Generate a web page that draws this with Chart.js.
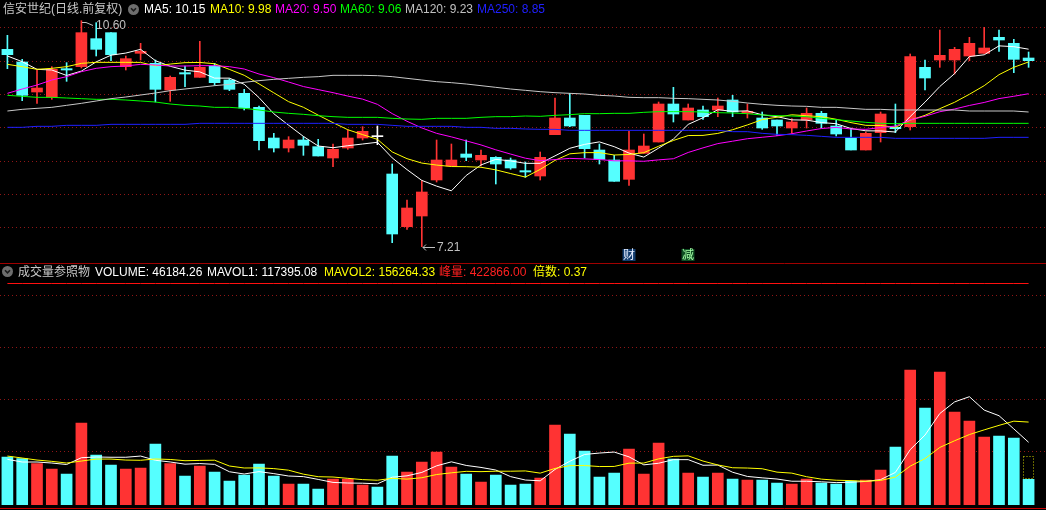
<!DOCTYPE html>
<html>
<head>
<meta charset="utf-8">
<script src="https://cdn.jsdelivr.net/npm/chart.js@4.4.1/dist/chart.umd.min.js"></script>
<style>
  html, body { margin: 0; padding: 0; background: #000; }
  #wrap { position: relative; width: 1046px; height: 510px; overflow: hidden; background: #000; }
  canvas { position: absolute; left: 0; }
  #price { top: 0; }
  #vol { top: 262px; }
  .t { position: absolute; font: 12px Arial, "Liberation Sans", "Noto Sans CJK SC", sans-serif; line-height: 12px; white-space: nowrap; }
  .ico { position: absolute; width: 11px; height: 11px; }
</style>
</head>
<body>
<div id="wrap">
  <canvas id="price" width="1046" height="262"></canvas>
  <canvas id="vol" width="1046" height="248"></canvas>

  <span class="t" style="left:3px;top:3px;color:#c8c8c8">信安世纪(日线.前复权)</span>
  <svg class="ico" style="left:127.5px;top:3.5px" viewBox="0 0 11 11"><circle cx="5.5" cy="5.5" r="5.5" fill="#6e6e6e"/><path d="M3 4.3 L5.5 6.8 L8 4.3" stroke="#1c1c1c" stroke-width="1.6" fill="none"/></svg>
  <span class="t" style="left:144px;top:3px;color:#ffffff">MA5: 10.15</span>
  <span class="t" style="left:210px;top:3px;color:#ffff00">MA10: 9.98</span>
  <span class="t" style="left:275px;top:3px;color:#ff00ff">MA20: 9.50</span>
  <span class="t" style="left:340px;top:3px;color:#00ff00">MA60: 9.06</span>
  <span class="t" style="left:405px;top:3px;color:#c0c0c0">MA120: 9.23</span>
  <span class="t" style="left:477px;top:3px;color:#2020ff">MA250: 8.85</span>

  <svg class="ico" style="left:2px;top:266px" viewBox="0 0 11 11"><circle cx="5.5" cy="5.5" r="5.5" fill="#6e6e6e"/><path d="M3 4.3 L5.5 6.8 L8 4.3" stroke="#1c1c1c" stroke-width="1.6" fill="none"/></svg>
  <span class="t" style="left:18px;top:266px;color:#c8c8c8">成交量参照物</span>
  <span class="t" style="left:95px;top:266px;color:#ffffff">VOLUME: 46184.26</span>
  <span class="t" style="left:207px;top:266px;color:#ffffff">MAVOL1: 117395.08</span>
  <span class="t" style="left:324px;top:266px;color:#ffff00">MAVOL2: 156264.33</span>
  <span class="t" style="left:439px;top:266px;color:#ff2020">峰量: 422866.00</span>
  <span class="t" style="left:533px;top:266px;color:#ffff00">倍数: 0.37</span>
</div>
<script>
'use strict'

// 70 trading days, no dates shown on the chart
const days = Array.from({ length: 70 }, (_, i) => i + 1);

const opens = [10.17, 9.98, 9.53, 9.45, 9.88, 9.91, 10.33, 10.42, 9.91, 10.11,
  9.96, 9.56, 9.82, 9.75, 9.92, 9.71, 9.51, 9.30, 8.84, 8.69,
  8.81, 8.71, 8.54, 8.69, 8.84, 8.86, 8.30, 7.51, 7.67, 8.21,
  8.42, 8.60, 8.51, 8.55, 8.51, 8.35, 8.27, 8.89, 9.14, 9.18,
  8.66, 8.51, 8.22, 8.61, 8.78, 9.35, 9.11, 9.26, 9.26, 9.41,
  9.21, 9.14, 9.11, 8.99, 9.11, 9.21, 9.02, 8.84, 8.66, 8.92,
  9.00, 9.01, 9.90, 10.01, 10.01, 10.07, 10.11, 10.35, 10.26, 10.04];
const highs = [10.38, 10.02, 9.86, 9.91, 9.97, 10.60, 10.57, 10.42, 10.07, 10.26,
  10.01, 9.77, 9.92, 10.29, 9.96, 9.73, 9.57, 9.32, 8.91, 8.86,
  8.86, 8.82, 8.75, 8.96, 9.01, 9.02, 8.45, 7.91, 8.20, 8.81,
  8.75, 8.81, 8.66, 8.56, 8.54, 8.48, 8.63, 9.44, 9.51, 9.18,
  8.75, 8.58, 8.94, 8.90, 9.38, 9.60, 9.35, 9.32, 9.44, 9.48,
  9.35, 9.23, 9.11, 9.13, 9.29, 9.24, 9.11, 8.99, 8.93, 9.23,
  9.35, 10.10, 10.01, 10.46, 10.20, 10.35, 10.50, 10.46, 10.32, 10.13];
const lows = [9.88, 9.40, 9.36, 9.42, 9.69, 9.89, 10.07, 10.00, 9.86, 10.01,
  9.38, 9.39, 9.61, 9.75, 9.63, 9.55, 9.26, 8.66, 8.63, 8.63,
  8.58, 8.57, 8.41, 8.67, 8.81, 8.74, 7.27, 7.47, 7.21, 8.18,
  8.42, 8.50, 8.42, 8.15, 8.37, 8.25, 8.21, 8.89, 9.01, 8.54,
  8.45, 8.19, 8.13, 8.61, 8.78, 9.08, 9.11, 9.12, 9.16, 9.16,
  9.14, 8.97, 8.88, 8.91, 8.99, 8.99, 8.87, 8.66, 8.66, 8.78,
  8.92, 8.96, 9.56, 9.90, 9.80, 10.00, 10.11, 10.14, 9.82, 9.90];
const closes = [10.09, 9.48, 9.59, 9.87, 9.86, 10.42, 10.17, 10.09, 10.03, 10.14,
  9.57, 9.75, 9.80, 9.90, 9.67, 9.57, 9.29, 8.80, 8.69, 8.81,
  8.73, 8.57, 8.67, 8.84, 8.94, 8.86, 7.40, 7.79, 8.03, 8.51,
  8.51, 8.55, 8.58, 8.45, 8.39, 8.33, 8.55, 9.14, 9.02, 8.68,
  8.52, 8.19, 8.66, 8.72, 9.35, 9.20, 9.29, 9.16, 9.32, 9.23,
  9.24, 8.99, 9.02, 9.08, 9.21, 9.06, 8.90, 8.66, 8.91, 9.20,
  8.98, 10.06, 9.74, 10.08, 10.17, 10.26, 10.19, 10.31, 10.02, 10.00];

const ma5 = [10.07, 9.985, 9.87, 9.86, 9.778, 9.844, 9.982, 10.082, 10.114, 10.17,
  10.00, 9.916, 9.858, 9.832, 9.738, 9.738, 9.646, 9.446, 9.204, 9.032,
  8.864, 8.72, 8.694, 8.724, 8.75, 8.776, 8.542, 8.366, 8.204, 8.118,
  8.048, 8.278, 8.436, 8.52, 8.496, 8.46, 8.46, 8.572, 8.686, 8.744,
  8.782, 8.71, 8.614, 8.554, 8.688, 8.824, 9.044, 9.144, 9.264, 9.24,
  9.248, 9.188, 9.16, 9.112, 9.108, 9.072, 9.054, 8.982, 8.948, 8.946,
  8.93, 9.162, 9.378, 9.612, 9.806, 10.062, 10.088, 10.222, 10.21, 10.172];
const ma10 = [9.945, 9.91, 9.87, 9.885, 9.91, 9.96, 9.975, 9.975, 9.975, 9.974,
  9.922, 9.949, 9.970, 9.973, 9.954, 9.869, 9.781, 9.652, 9.518, 9.385,
  9.301, 9.183, 9.07, 8.964, 8.891, 8.82, 8.631, 8.53, 8.464, 8.434,
  8.412, 8.41, 8.401, 8.362, 8.307, 8.254, 8.369, 8.504, 8.603, 8.62,
  8.621, 8.585, 8.593, 8.62, 8.716, 8.803, 8.877, 8.879, 8.909, 8.964,
  9.036, 9.116, 9.152, 9.188, 9.174, 9.16, 9.121, 9.071, 9.03, 9.027,
  9.001, 9.108, 9.18, 9.28, 9.376, 9.496, 9.625, 9.79, 9.901, 9.981];
const ma20 = [9.51, 9.575, 9.635, 9.71, 9.76, 9.835, 9.885, 9.91, 9.92, 9.945,
  9.935, 9.92, 9.92, 9.925, 9.925, 9.91, 9.875, 9.80, 9.745, 9.68,
  9.612, 9.566, 9.52, 9.469, 9.423, 9.345, 9.206, 9.091, 8.991, 8.91,
  8.857, 8.797, 8.736, 8.663, 8.599, 8.537, 8.50, 8.517, 8.534, 8.527,
  8.517, 8.498, 8.497, 8.491, 8.512, 8.529, 8.623, 8.692, 8.756, 8.792,
  8.829, 8.851, 8.873, 8.904, 8.945, 8.982, 8.999, 8.975, 8.970, 8.996,
  9.019, 9.112, 9.166, 9.234, 9.275, 9.328, 9.373, 9.431, 9.466, 9.504];
const ma60 = [9.48, 9.465, 9.45, 9.45, 9.44, 9.43, 9.42, 9.42, 9.41, 9.395,
  9.38, 9.35, 9.33, 9.32, 9.30, 9.30, 9.285, 9.26, 9.23, 9.21,
  9.195, 9.175, 9.16, 9.15, 9.15, 9.15, 9.135, 9.125, 9.12, 9.135,
  9.135, 9.135, 9.15, 9.16, 9.16, 9.17, 9.165, 9.18, 9.19, 9.205,
  9.205, 9.21, 9.21, 9.225, 9.235, 9.235, 9.235, 9.23, 9.22, 9.215,
  9.205, 9.185, 9.175, 9.17, 9.16, 9.135, 9.115, 9.095, 9.075, 9.06,
  9.055, 9.06, 9.06, 9.06, 9.06, 9.06, 9.06, 9.06, 9.06, 9.06];
const ma120 = [9.245, 9.27, 9.285, 9.30, 9.33, 9.36, 9.395, 9.43, 9.455, 9.485,
  9.515, 9.55, 9.575, 9.60, 9.625, 9.645, 9.675, 9.70, 9.72, 9.735,
  9.75, 9.76, 9.78, 9.78, 9.78, 9.775, 9.76, 9.735, 9.71, 9.685,
  9.67, 9.65, 9.625, 9.60, 9.575, 9.555, 9.535, 9.52, 9.51, 9.50,
  9.48, 9.47, 9.45, 9.445, 9.445, 9.435, 9.43, 9.42, 9.41, 9.39,
  9.365, 9.345, 9.33, 9.32, 9.315, 9.30, 9.30, 9.285, 9.27, 9.27,
  9.26, 9.26, 9.26, 9.26, 9.26, 9.245, 9.245, 9.245, 9.245, 9.23];
const ma250 = [9.00, 9.00, 9.015, 9.015, 9.03, 9.03, 9.03, 9.045, 9.045, 9.045,
  9.045, 9.045, 9.045, 9.06, 9.06, 9.06, 9.06, 9.06, 9.06, 9.06,
  9.06, 9.06, 9.06, 9.045, 9.045, 9.045, 9.03, 9.015, 9.015, 9.015,
  9.015, 9.0, 9.0, 8.985, 8.985, 8.975, 8.97, 8.97, 8.955, 8.955,
  8.955, 8.955, 8.955, 8.955, 8.955, 8.955, 8.955, 8.955, 8.955, 8.935,
  8.935, 8.91, 8.895, 8.89, 8.88, 8.865, 8.85, 8.85, 8.85, 8.85,
  8.835, 8.835, 8.835, 8.835, 8.835, 8.835, 8.835, 8.85, 8.85, 8.85];

const volumes = [89000, 85800, 76200, 65900, 56300, 154300, 92800, 73600, 65900, 67800,
  114000, 76200, 52500, 71700, 60200, 42900, 54400, 75500, 52500, 37100,
  37100, 27500, 46700, 46700, 35200, 31300, 90900, 60200, 79400, 98600,
  69800, 56300, 40900, 54400, 35200, 37100, 48600, 150500, 133200, 100500,
  50500, 58200, 104400, 56300, 115900, 85100, 58200, 50500, 58200, 46700,
  44800, 44800, 39000, 37100, 46700, 39000, 37100, 42900, 44800, 64000,
  108200, 256200, 183200, 252400, 175500, 158200, 127400, 129400, 125500, 46184];
const mavol1 = [84600, 79400, 79400, 77500, 74640, 87700, 89100, 88580, 88580, 90880,
  82820, 79500, 75280, 76440, 74920, 60700, 56340, 60940, 57100, 52480,
  51320, 45940, 40180, 39020, 38640, 37480, 50160, 52860, 59400, 72080,
  79780, 72860, 69000, 64000, 51320, 44780, 43240, 65160, 80920, 93980,
  96660, 98580, 89360, 73980, 77060, 83980, 83980, 73200, 73580, 59740,
  51680, 49000, 46700, 42480, 42480, 41320, 39780, 40560, 42100, 45560,
  59400, 103220, 131280, 172760, 195060, 205060, 179300, 168540, 143160, 117395];
const mavol2 = [90900, 87100, 83200, 80700, 77500, 81300, 85100, 85100, 83200, 82760,
  85260, 84300, 81930, 82510, 82900, 71760, 67920, 68110, 66770, 63700,
  56010, 51140, 50560, 48060, 45560, 44400, 48050, 46520, 49210, 55360,
  58630, 61510, 60930, 61700, 61700, 62280, 58050, 67080, 72460, 72650,
  70720, 70910, 77260, 77450, 85520, 90320, 91280, 81280, 73780, 68400,
  67830, 66490, 59950, 58030, 51110, 46500, 44390, 43630, 42290, 44020,
  50360, 71500, 85920, 107450, 120330, 132250, 141280, 149930, 158000, 156264];
const peakVolume = 422866;
const projVolume = 90900;   // dotted box on the last bar

const priceTicks = [10.5, 10.0, 9.5, 9.0, 8.5, 8.0, 7.5];
const volumeTicks = [100000, 200000, 300000, 400000];

const notes = [
  { day: 42, text: '财', bg: '#123c6e', fg: '#e6eeff' },
  { day: 46, text: '减', bg: '#0e4d22', fg: '#a6ffa6' }
];

const RED = '#ff3333', CYAN = '#55ffff';
const FONT = '12px Arial, "Liberation Sans", "Noto Sans CJK SC", sans-serif';

function candleColor(i) {
  if (closes[i] > opens[i]) return RED;
  if (closes[i] < opens[i]) return CYAN;
  return '#ffffff';
}
function volColor(i) {
  return closes[i] > opens[i] ? RED : CYAN;
}

const dotGrid = {
  id: 'dotGrid',
  beforeDatasetsDraw(chart, args, opts) {
    const ctx = chart.ctx, y = chart.scales.y;
    ctx.save();
    ctx.strokeStyle = '#901616';
    ctx.lineWidth = 1;
    ctx.setLineDash([1, 3]);
    opts.values.forEach(v => {
      const py = Math.round(y.getPixelForValue(v)) + 0.5;
      ctx.beginPath();
      ctx.moveTo(0, py);
      ctx.lineTo(chart.width, py);
      ctx.stroke();
    });
    ctx.restore();
  }
};

const priceMarks = {
  id: 'priceMarks',
  afterDatasetsDraw(chart) {
    const ctx = chart.ctx, x = chart.scales.x, y = chart.scales.y;
    ctx.save();
    ctx.font = FONT;
    ctx.textBaseline = 'middle';
    ctx.strokeStyle = '#c0c0c0';
    ctx.fillStyle = '#c0c0c0';
    ctx.lineWidth = 1;

    // highest high
    const hi = highs.indexOf(Math.max(...highs));
    let px = Math.round(x.getPixelForValue(hi)), py = Math.round(y.getPixelForValue(highs[hi]));
    ctx.beginPath();
    ctx.moveTo(px + 1, py + 1.5);
    ctx.lineTo(px + 5, py + 1.5);
    ctx.lineTo(px + 12, py + 4.5);
    ctx.stroke();
    ctx.fillText(highs[hi].toFixed(2), px + 15, py + 5);

    // lowest low
    const lo = lows.indexOf(Math.min(...lows));
    px = Math.round(x.getPixelForValue(lo));
    py = Math.round(y.getPixelForValue(lows[lo])) + 0.5;
    ctx.beginPath();
    ctx.moveTo(px + 1, py);
    ctx.lineTo(px + 13, py);
    ctx.moveTo(px + 4, py - 3);
    ctx.lineTo(px + 1, py);
    ctx.lineTo(px + 4, py + 3);
    ctx.stroke();
    ctx.fillText(lows[lo].toFixed(2), px + 15, py);

    // event notes under the candles
    ctx.textAlign = 'center';
    notes.forEach(n => {
      const cx = Math.round(x.getPixelForValue(n.day));
      ctx.fillStyle = n.bg;
      ctx.fillRect(cx - 6.5, 249, 13, 12);
      ctx.fillStyle = n.fg;
      ctx.fillText(n.text, cx, 255.5);
    });
    ctx.restore();
  }
};

const volExtras = {
  id: 'volExtras',
  afterDatasetsDraw(chart) {
    const ctx = chart.ctx, x = chart.scales.x, y = chart.scales.y;
    ctx.save();
    // panel separators
    ctx.strokeStyle = '#a00000';
    ctx.lineWidth = 1;
    ctx.beginPath();
    ctx.moveTo(0, 1.5); ctx.lineTo(chart.width, 1.5);
    ctx.stroke();
    ctx.strokeStyle = '#c80000';
    ctx.beginPath();
    ctx.moveTo(0, 246.5); ctx.lineTo(chart.width, 246.5);
    ctx.stroke();

    // projected volume of the last day
    const last = volumes.length - 1;
    const cx = x.getPixelForValue(last);
    const top = Math.round(y.getPixelForValue(projVolume)) + 0.5;
    const bot = Math.round(y.getPixelForValue(volumes[last])) - 0.5;
    ctx.strokeStyle = '#cccc00';
    ctx.setLineDash([1, 2]);
    ctx.strokeRect(Math.round(cx - 5.5) + 0.5, top, 10, bot - top);
    ctx.restore();
  }
};

function maLine(data, color) {
  return {
    type: 'line', data: data, borderColor: color, borderWidth: 1,
    pointRadius: 0, tension: 0, fill: false, order: 0
  };
}

new Chart(document.getElementById('price'), {
  type: 'bar',
  data: {
    labels: days,
    datasets: [
      {
        data: days.map((d, i) => [lows[i], highs[i]]),
        backgroundColor: days.map((d, i) => candleColor(i)),
        barThickness: 1, grouped: false, order: 2
      },
      {
        data: days.map((d, i) => [opens[i], closes[i]]),
        backgroundColor: days.map((d, i) => candleColor(i)),
        barThickness: 11, minBarLength: 1, grouped: false, order: 1
      },
      maLine(ma250, '#2020ff'),
      maLine(ma120, '#c8c8c8'),
      maLine(ma60, '#00ff00'),
      maLine(ma20, '#ff00ff'),
      maLine(ma10, '#ffff00'),
      maLine(ma5, '#ffffff')
    ]
  },
  options: {
    responsive: false,
    animation: false,
    events: [],
    layout: { padding: { left: -1, right: 10, top: 20, bottom: 12 } },
    scales: {
      x: { display: false, offset: true, grid: { display: false } },
      y: { display: false, min: 7.16, max: 10.61 }
    },
    plugins: {
      legend: { display: false },
      tooltip: { enabled: false },
      dotGrid: { values: priceTicks }
    }
  },
  plugins: [dotGrid, priceMarks]
});

new Chart(document.getElementById('vol'), {
  type: 'bar',
  data: {
    labels: days,
    datasets: [
      {
        data: volumes,
        backgroundColor: days.map((d, i) => volColor(i)),
        barThickness: 11, grouped: false, base: -3270, order: 1
      },
      maLine(mavol2, '#ffff00'),
      maLine(mavol1, '#ffffff'),
      Object.assign(maLine(days.map(() => peakVolume), '#ff1010'), { clip: false })
    ]
  },
  options: {
    responsive: false,
    animation: false,
    events: [],
    layout: { padding: { left: -1, right: 10, top: 21.5, bottom: 5 } },
    scales: {
      x: { display: false, offset: true, grid: { display: false } },
      y: { display: false, min: -3270, max: peakVolume }
    },
    plugins: {
      legend: { display: false },
      tooltip: { enabled: false },
      dotGrid: { values: volumeTicks }
    }
  },
  plugins: [dotGrid, volExtras]
});
</script>
</body>
</html>
